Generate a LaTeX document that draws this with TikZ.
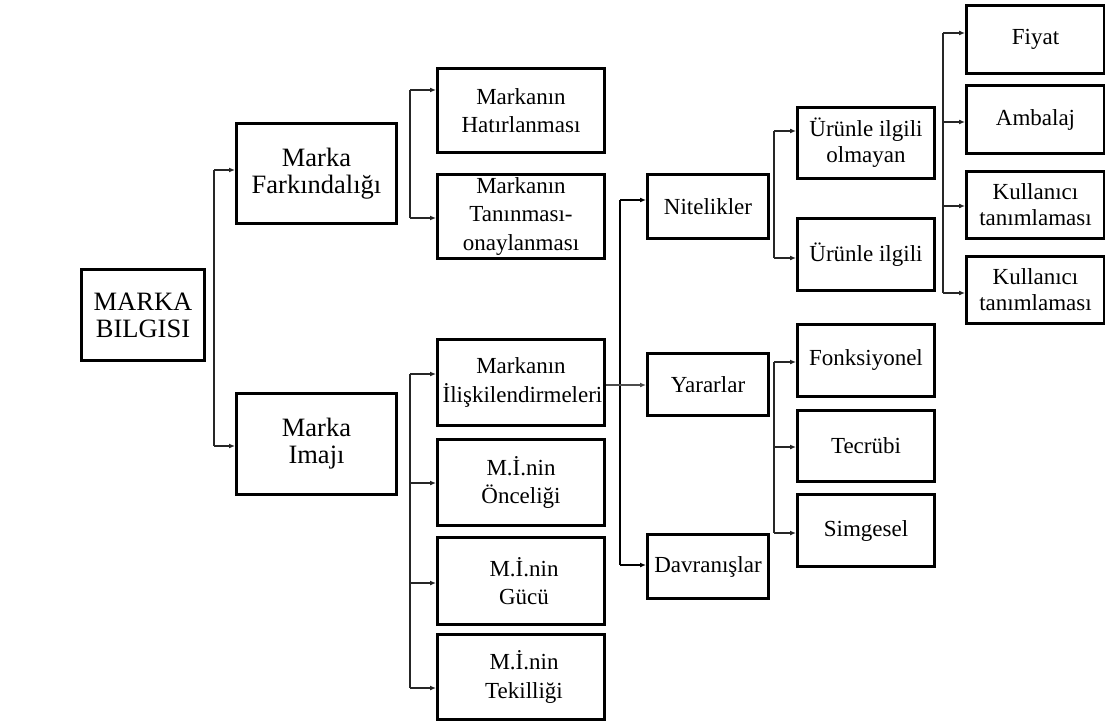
\documentclass[tikz,border=0pt]{standalone}
\usepackage{fontspec}
\setmainfont{Liberation Serif}
\usetikzlibrary{arrows.meta}
\begin{document}
\begin{tikzpicture}[x=1pt,y=-1pt,
  box/.style={draw=black,line width=3pt,align=center,inner sep=0pt,anchor=north west},
  big/.style={font=\fontsize{26.5}{27}\selectfont},
  mid/.style={font=\fontsize{23}{28.5}\selectfont},
  rgt/.style={font=\fontsize{23}{26}\selectfont},
  conn/.style={draw=black!85,line width=1.6pt},
  arr/.style={conn,-{Latex[length=6pt,width=5pt]}}]
\useasboundingbox (0,0) rectangle (1105,722);
% level 0
\node[box,big,minimum width=123pt,minimum height=91pt] (bil) at (80,268) {MARKA\\BILGISI};
% level 1
\node[box,big,minimum width=160pt,minimum height=100pt] (far) at (235,122) {Marka\\Farkındalığı};
\node[box,big,minimum width=160pt,minimum height=101pt] (ima) at (235,392) {Marka\\Imajı};
% level 2
\node[box,mid,minimum width=167pt,minimum height=84pt] (hat) at (436,67) {Markanın\\Hatırlanması};
\node[box,mid,minimum width=167pt,minimum height=84pt] (tan) at (436,173) {Markanın\\Tanınması-\\onaylanması};
\node[box,mid,minimum width=167pt,minimum height=86pt] (ili) at (436,338) {Markanın\\\hspace*{3pt}İlişkilendirmeleri};
\node[box,mid,minimum width=167pt,minimum height=86pt] (onc) at (436,438) {M.İ.nin\\Önceliği};
\node[box,mid,minimum width=167pt,minimum height=87pt] (guc) at (436,536) {\hspace*{6pt}M.İ.nin\\\hspace*{6pt}Gücü};
\node[box,mid,minimum width=167pt,minimum height=85pt] (tek) at (436,633) {\hspace*{6pt}M.İ.nin\\\hspace*{6pt}Tekilliği};
% level 3
\node[box,mid,minimum width=121pt,minimum height=64pt] (nit) at (646,173) {Nitelikler};
\node[box,mid,minimum width=121pt,minimum height=62pt] (yar) at (646,352) {Yararlar};
\node[box,mid,minimum width=121pt,minimum height=64pt] (dav) at (646,533) {Davranışlar};
% level 4
\node[box,rgt,minimum width=137pt,minimum height=71pt] (uio) at (796,106) {Ürünle ilgili\\olmayan};
\node[box,rgt,minimum width=137pt,minimum height=72pt] (uil) at (796,217) {Ürünle ilgili};
\node[box,rgt,minimum width=137pt,minimum height=72pt] (fon) at (796,323) {Fonksiyonel};
\node[box,rgt,minimum width=137pt,minimum height=71pt] (tec) at (796,409) {Tecrübi};
\node[box,rgt,minimum width=137pt,minimum height=72pt] (sim) at (796,493) {Simgesel};
% level 5
\node[box,rgt,minimum width=138pt,minimum height=68pt] (fiy) at (965,4) {Fiyat};
\node[box,rgt,minimum width=138pt,minimum height=68pt] (amb) at (965,84) {Ambalaj};
\node[box,rgt,minimum width=138pt,minimum height=67pt] (ku1) at (965,170) {Kullanıcı\\tanımlaması};
\node[box,rgt,minimum width=138pt,minimum height=67pt] (ku2) at (965,255) {Kullanıcı\\tanımlaması};
% bracket junctions
\coordinate (j1) at (214,0);
\coordinate (j2) at (410,0);
\coordinate (j3) at (620,0);
\coordinate (j4) at (774,0);
\coordinate (j5) at (943,0);
% bracket 1
\draw[conn] (j1 |- 0,170) -- (j1 |- 0,446);
\draw[arr] (j1 |- 0,170) -- (far.west |- 0,170);
\draw[arr] (j1 |- 0,446) -- (ima.west |- 0,446);
% bracket 2
\draw[conn] (j2 |- 0,90) -- (j2 |- 0,218);
\draw[arr] (j2 |- 0,90) -- (hat.west |- 0,90);
\draw[arr] (j2 |- 0,218) -- (tan.west |- 0,218);
% bracket 3
\draw[conn] (j2 |- 0,374) -- (j2 |- 0,688);
\draw[arr] (j2 |- 0,374) -- (ili.west |- 0,374);
\draw[arr] (j2 |- 0,483) -- (onc.west |- 0,483);
\draw[arr] (j2 |- 0,583) -- (guc.west |- 0,583);
\draw[arr] (j2 |- 0,688) -- (tek.west |- 0,688);
% bracket 4
\draw[conn,line width=2.2pt,draw=black] (j3 |- 0,200) -- (j3 |- 0,565);
\draw[arr,draw=black] (j3 |- 0,200) -- (nit.west |- 0,200);
\draw[arr,draw=black] (j3 |- 0,565) -- (dav.west |- 0,565);
\draw[arr,draw=black!70,line width=1.4pt] (ili.east |- 0,385) -- (yar.west |- 0,385);
% bracket 5
\draw[conn] (j4 |- 0,131) -- (j4 |- 0,258);
\draw[arr] (j4 |- 0,131) -- (uio.west |- 0,131);
\draw[arr] (j4 |- 0,258) -- (uil.west |- 0,258);
% bracket 6
\draw[conn] (j4 |- 0,362) -- (j4 |- 0,533);
\draw[arr] (j4 |- 0,362) -- (fon.west |- 0,362);
\draw[arr] (j4 |- 0,447) -- (tec.west |- 0,447);
\draw[arr] (j4 |- 0,533) -- (sim.west |- 0,533);
% bracket 7
\draw[conn] (j5 |- 0,33) -- (j5 |- 0,293);
\draw[arr] (j5 |- 0,33) -- (fiy.west |- 0,33);
\draw[arr] (j5 |- 0,122) -- (amb.west |- 0,122);
\draw[arr] (j5 |- 0,206) -- (ku1.west |- 0,206);
\draw[arr] (j5 |- 0,293) -- (ku2.west |- 0,293);
\end{tikzpicture}
\end{document}
